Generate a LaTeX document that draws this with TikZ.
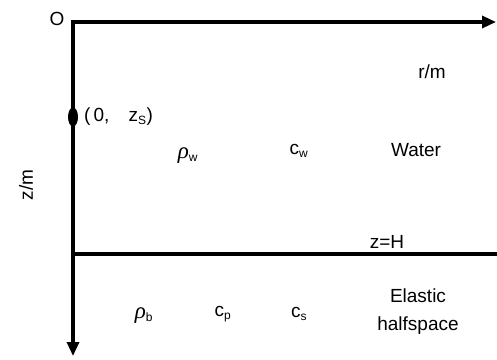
\documentclass[tikz,border=0pt]{standalone}
\usepackage{fontspec}
\setmainfont{Liberation Sans}
\newfontfamily\grk{Liberation Serif}
\usetikzlibrary{arrows.meta,shapes.geometric}
\newcommand{\sbs}[1]{\textsubscript{\fontsize{12}{12}\selectfont #1}}
\newcommand{\rhochar}{{\grk\itshape\fontsize{23}{23}\selectfont ρ}}
\begin{document}
\begin{tikzpicture}[x=1pt,y=-1pt,
  axis/.style={line width=3.3pt,-{Triangle[length=14pt,width=12pt]}},
  lbl/.style={inner sep=0pt,font=\fontsize{19}{21}\selectfont}]
\useasboundingbox (0,0) rectangle (497,359);
\coordinate (o) at (73,22);
\coordinate (xend) at (496,22);
\coordinate (zend) at (73,356);
\coordinate (hl) at (73,254);
\coordinate (hr) at (497,254);
\draw[axis] ([xshift=-1.65pt]o) -- (xend);
\draw[axis] ([yshift=-1.65pt]o) -- (zend);
\draw[line width=3.3pt] (hl) -- (hr);
\node[fill=black,ellipse,minimum width=10pt,minimum height=19pt,inner sep=0pt] (src) at (73,117) {};
\node[lbl] (O) at (57,19) {O};
\node[lbl,anchor=west] (zs) at (84,117) {(\,0,\ \ \ \,z\sbs{S})};
\node[lbl] (rm) at (432,72) {r/m};
\node[lbl] (rw) at (188,156) {\rhochar\sbs{w}};
\node[lbl] (cw) at (299,151) {c\sbs{w}};
\node[lbl] (water) at (416,150) {Water};
\node[lbl,rotate=90] (zm) at (26,185) {z/m};
\node[lbl] (zH) at (387,242) {z=H};
\node[lbl] (rb) at (144,316) {\rhochar\sbs{b}};
\node[lbl] (cp) at (223,314) {c\sbs{p}};
\node[lbl] (cs) at (299,314) {c\sbs{s}};
\node[lbl,align=center,font=\fontsize{19}{28}\selectfont] (el) at (418,312) {Elastic\\halfspace};
\end{tikzpicture}
\end{document}
